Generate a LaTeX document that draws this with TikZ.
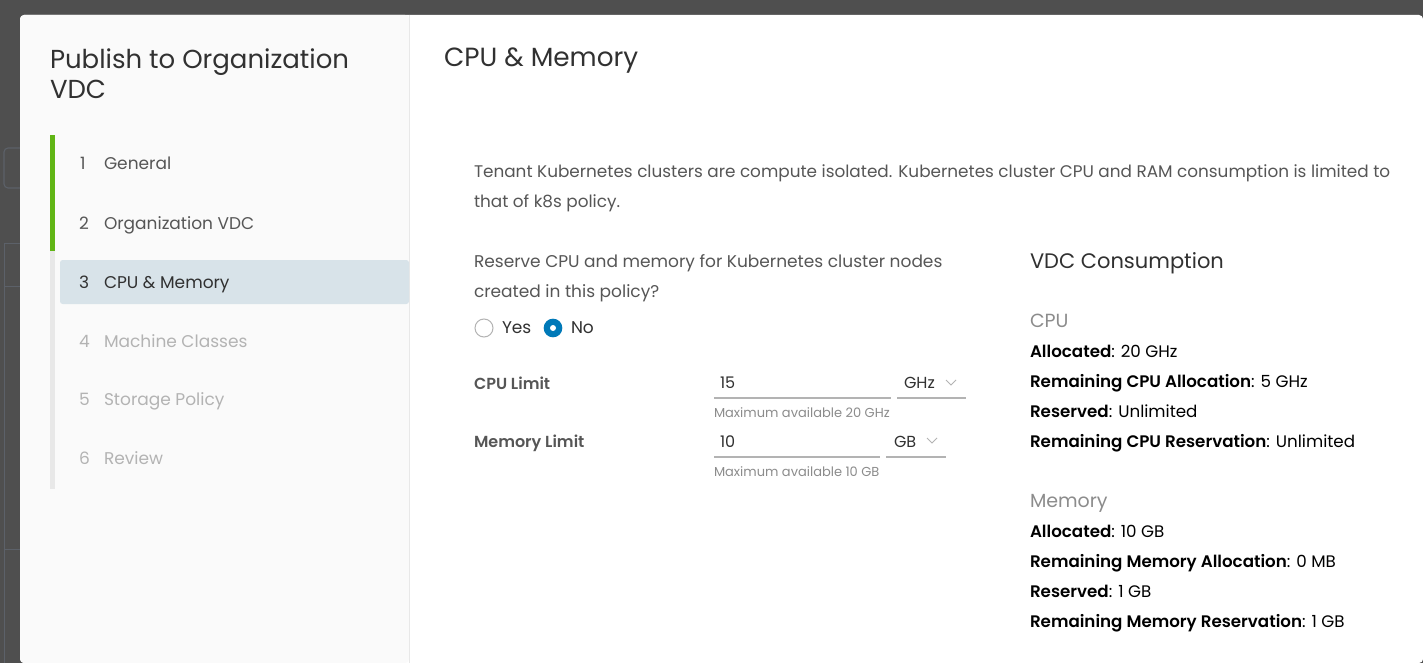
\documentclass[tikz,border=0pt]{standalone}
\usepackage{fontspec}
\setmainfont{Poppins}[BoldFont={Poppins SemiBold}]
\definecolor{bgdark}{HTML}{4F4F4F}
\definecolor{bgline}{HTML}{5C6169}
\definecolor{panel}{HTML}{FAFAFA}
\definecolor{panelline}{HTML}{E8E8E8}
\definecolor{stepgreen}{HTML}{60B515}
\definecolor{stepgray}{HTML}{E8E8E8}
\definecolor{hilite}{HTML}{D8E3E9}
\definecolor{txtdark}{HTML}{313131}
\definecolor{txtmid}{HTML}{565656}
\definecolor{txtlight}{HTML}{B3B3B3}
\definecolor{txthint}{HTML}{8C8C8C}
\definecolor{radioblue}{HTML}{0079B8}
\definecolor{uline}{HTML}{B3B3B3}
\newcommand{\pxfont}[1]{\fontsize{\dimexpr #1pt*3/4\relax}{\dimexpr #1pt*9/10\relax}\selectfont}
\tikzset{
  txt/.style={anchor=base west, inner sep=0pt, outer sep=0pt},
  titletxt/.style={txt, text=txtdark, font=\pxfont{26}},
  steptxt/.style={txt, text=txtmid, font=\pxfont{17}},
  stepdone/.style={steptxt},
  stepcur/.style={steptxt, text=txtdark},
  steptodo/.style={steptxt, text=txtlight},
  bodytxt/.style={txt, text=txtmid, font=\pxfont{17}},
  labeltxt/.style={txt, text=txtmid, font=\pxfont{16}\bfseries},
  inputtxt/.style={txt, text=txtdark, font=\pxfont{16}},
  hinttxt/.style={txt, text=txthint, font=\pxfont{13}},
  subhead/.style={txt, text=txtdark, font=\pxfont{21}},
  sechead/.style={txt, text=txthint, font=\pxfont{19}},
  infotxt/.style={txt, text=black, font=\pxfont{16.7}},
  underl/.style={draw=uline, line width=0.9pt},
  chev/.style={draw=txtlight, line width=0.6pt},
}
\begin{document}
\begin{tikzpicture}[x=0.75pt, y=-0.75pt]
\useasboundingbox (0,0) rectangle (1423,663);
% background page behind the modal
\fill[bgdark] (0,0) rectangle (1423,663);
\draw[bgline, line width=0.8pt, rounded corners=3pt] (25,148) -- (4,148) -- (4,188) -- (25,188);
\draw[bgline, line width=0.6pt] (20,243) -- (4,243) -- (4,663);
\draw[bgline, line width=0.6pt] (4,286) -- (20,286);
\draw[bgline, line width=0.6pt] (4,549) -- (20,549);
% modal
\fill[white, rounded corners=3pt] (20,663) -- (20,15) -- (1423,15) -- (1423,663) -- cycle;
\fill[panel, rounded corners=3pt] (20,663) -- (20,15) -- (409,15) -- (409,663) -- cycle;
\draw[panelline, line width=0.75pt] (409.5,15) -- (409.5,663);
% left panel title
\node[titletxt] (ttl1) at (50,69) {Publish to Organization};
\node[titletxt] (ttl2) at (50,99) {VDC};
% step bar
\fill[stepgreen] (50,135) rectangle (55,251);
\fill[stepgray] (50,251) rectangle (55,489);
\fill[hilite, rounded corners=2pt] (60,260) rectangle (409,304);
\node[stepdone] (n1) at (80,170) {1};
\node[stepdone] (s1) at (104,170) {General};
\node[stepdone] (n2) at (79,229) {2};
\node[stepdone] (s2) at (104,229) {Organization VDC};
\node[stepcur] (n3) at (79,288) {3};
\node[stepcur] (s3) at (104,288) {CPU \& Memory};
\node[steptodo] (n4) at (79,347) {4};
\node[steptodo] (s4) at (104,347) {Machine Classes};
\node[steptodo] (n5) at (79,405) {5};
\node[steptodo] (s5) at (104,405) {Storage Policy};
\node[steptodo] (n6) at (79,464) {6};
\node[steptodo] (s6) at (104,464) {Review};
% right content
\node[titletxt, font=\pxfont{26.3}] (head) at (444,67) {CPU \& Memory};
\node[bodytxt, font=\pxfont{16.85}] (p1) at (474,177) {Tenant Kubernetes clusters are compute isolated. Kubernetes cluster CPU and RAM consumption is limited to};
\node[bodytxt, font=\pxfont{16.85}] (p2) at (474,207) {that of k8s policy.};
\node[bodytxt] (q1) at (474,267) {Reserve CPU and memory for Kubernetes cluster nodes};
\node[bodytxt] (q2) at (474,297) {created in this policy?};
% radios
\node[circle, draw=txtlight, fill=white, line width=0.75pt, minimum size=13.5pt, inner sep=0pt] (ryes) at (484,328) {};
\node[bodytxt, text=txtdark] (lyes) at (502,333) {Yes};
\node[circle, fill=radioblue, minimum size=14pt, inner sep=0pt] (rno) at (553,328) {};
\node[circle, fill=white, minimum size=4.5pt, inner sep=0pt] (rnodot) at (rno.center) {};
\node[bodytxt, text=txtdark] (lno) at (571,333) {No};
% limits
\node[labeltxt] (cpulbl) at (474,389) {CPU Limit};
\node[inputtxt] (cpuval) at (720,388) {15};
\coordinate (cpuL) at (714,398);
\coordinate (cpuR) at (891,398);
\draw[underl] (cpuL) -- (cpuR);
\node[inputtxt] (cpuunit) at (904,388) {GHz};
\coordinate (gL) at (897,398);
\coordinate (gR) at (966,398);
\draw[underl] (gL) -- (gR);
\coordinate (c1) at (946,380);
\draw[chev] (c1) -- ++(5,5) -- ++(5,-5);
\node[hinttxt] (cpuhint) at (714,417) {Maximum available 20 GHz};
\node[labeltxt] (memlbl) at (474,447) {Memory Limit};
\node[inputtxt] (memval) at (720,447) {10};
\coordinate (memL) at (714,457);
\coordinate (memR) at (880,457);
\draw[underl] (memL) -- (memR);
\node[inputtxt] (memunit) at (894,447) {GB};
\coordinate (bL) at (886,457);
\coordinate (bR) at (946,457);
\draw[underl] (bL) -- (bR);
\coordinate (c2) at (927,438);
\draw[chev] (c2) -- ++(5,5) -- ++(5,-5);
\node[hinttxt] (memhint) at (714,476) {Maximum available 10 GB};
% VDC consumption
\node[subhead] (vdc) at (1030,268) {VDC Consumption};
\node[sechead] (cpuh) at (1030,327) {CPU};
\node[infotxt] (i1) at (1030,357) {\textbf{Allocated}: 20 GHz};
\node[infotxt] (i2) at (1030,387) {\textbf{Remaining CPU Allocation}: 5 GHz};
\node[infotxt] (i3) at (1030,417) {\textbf{Reserved}: Unlimited};
\node[infotxt] (i4) at (1030,447) {\textbf{Remaining CPU Reservation}: Unlimited};
\node[sechead] (memh) at (1030,507) {Memory};
\node[infotxt] (j1) at (1030,537) {\textbf{Allocated}: 10 GB};
\node[infotxt] (j2) at (1030,567) {\textbf{Remaining Memory Allocation}: 0 MB};
\node[infotxt] (j3) at (1030,597) {\textbf{Reserved}: 1 GB};
\node[infotxt] (j4) at (1030,627) {\textbf{Remaining Memory Reservation}: 1 GB};
\end{tikzpicture}
\end{document}
